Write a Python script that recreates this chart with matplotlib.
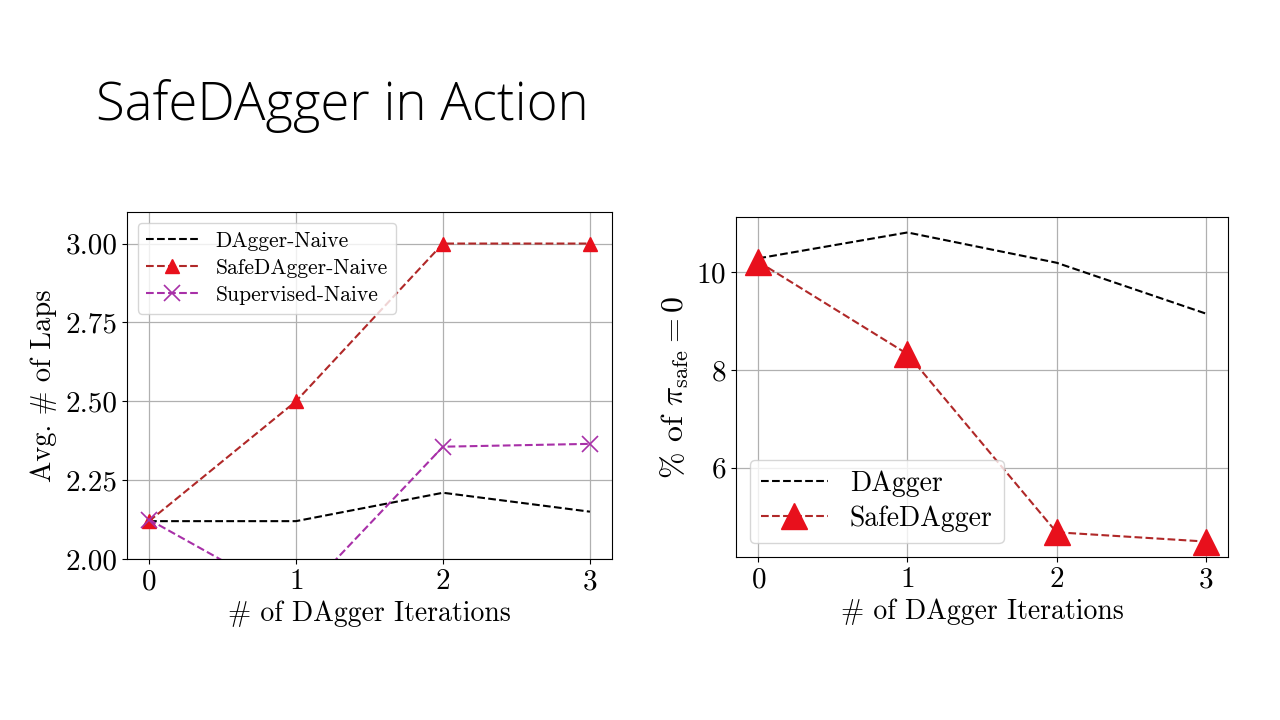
import matplotlib
matplotlib.use("Agg")
import matplotlib.pyplot as plt

# Data
iterations = [0, 1, 2, 3]
dagger_naive = [2.12, 2.12, 2.21, 2.15]
safedagger_naive = [2.12, 2.50, 3.00, 3.00]
supervised_naive = [2.125, 1.865, 2.356, 2.365]

dagger_pct = [10.29, 10.82, 10.20, 9.16]
safedagger_pct = [10.22, 8.33, 4.68, 4.49]

plt.rcParams['font.family'] = ['cmr10']
plt.rcParams['mathtext.fontset'] = 'cm'
plt.rcParams['axes.formatter.use_mathtext'] = True
plt.rcParams['axes.unicode_minus'] = False

fig = plt.figure(figsize=(12.8, 7.2), dpi=100)

fig.text(96/1280, 1 - 106/720, "SafeDAgger in Action", family=['Open Sans', 'DejaVu Sans'],
         fontweight='light', fontsize=38, va='center', ha='left', color='black')

# Left axes
ax1 = fig.add_axes([127/1280, 1 - 559/720, (612-127)/1280, (559-212)/720])
ax1.plot(iterations, dagger_naive, '--', color='black', lw=1.5, label='DAgger-Naive')
ax1.plot(iterations, safedagger_naive, '--', color='#b02828', lw=1.5, marker='^', ms=10,
         mfc='#e8101c', mec='#e8101c', label='SafeDAgger-Naive')
ax1.plot(iterations, supervised_naive, '--', color='#a830a8', lw=1.5, marker='x', ms=11,
         mew=1.2, label='Supervised-Naive')
ax1.set_ylim(2.0, 3.1)
ax1.set_xlim(-0.15, 3.15)
ax1.set_xticks(iterations)
ax1.set_yticks([2.0, 2.25, 2.5, 2.75, 3.0])
ax1.set_yticklabels(['2.00', '2.25', '2.50', '2.75', '3.00'])
ax1.grid(True, color='#b0b0b0', lw=0.9)
ax1.tick_params(labelsize=21)
ax1.set_xlabel('# of DAgger Iterations', fontsize=20, labelpad=4)
ax1.set_ylabel('Avg. # of Laps', fontsize=20.5, labelpad=6)
ax1.legend(loc='upper left', fontsize=15.5, markerscale=1.0, borderpad=0.4,
           handlelength=2.4, labelspacing=0.35)

# Right axes
ax2 = fig.add_axes([736/1280, 1 - 557/720, (1228-736)/1280, (557-217)/720])
ax2.plot(iterations, dagger_pct, '--', color='black', lw=1.5, label='DAgger')
ax2.plot(iterations, safedagger_pct, '--', color='#b02828', lw=1.5, marker='^', ms=19,
         mfc='#e8101c', mec='#e8101c', label='SafeDAgger')
ax2.set_xticks(iterations)
ax2.set_yticks([6, 8, 10])
ax2.grid(True, color='#b0b0b0', lw=0.9)
ax2.tick_params(labelsize=21)
ax2.set_xlabel('# of DAgger Iterations', fontsize=20, labelpad=4)
ax2.set_ylabel(r'$\%$ of $\pi_{\mathrm{safe}} = 0$', fontsize=23, labelpad=4)
ax2.legend(loc='lower left', fontsize=20, borderpad=0.4, handlelength=2.4, labelspacing=0.3)

fig.savefig('out.png', dpi=100)
